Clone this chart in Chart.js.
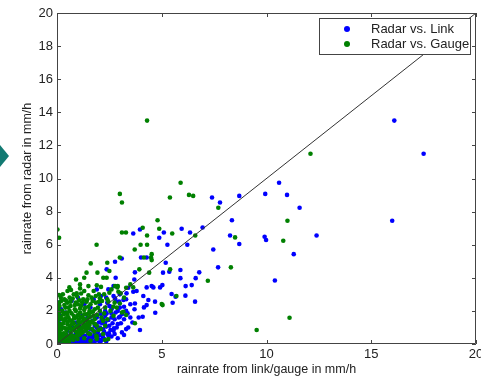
<!DOCTYPE html>
<html>
<head>
<meta charset="utf-8">
<script src="https://cdn.jsdelivr.net/npm/chart.js@4"></script>
<style>
  html, body { margin: 0; padding: 0; background: #fff; overflow: hidden; }
  #wrap { position: relative; width: 481px; height: 380px; }
</style>
</head>
<body>
<div id="wrap"><canvas id="my-chart"></canvas></div>
<script>
'use strict';

// ***** DATA *****
let seriesNames = ['Radar vs. Link', 'Radar vs. Gauge'];
let xTicks = [0, 5, 10, 15, 20];
let yTicks = [0, 2, 4, 6, 8, 10, 12, 14, 16, 18, 20];

// radar vs. link (blue)
let linkX = [
  16.1, 17.5, 16.0, 10.6, 9.94, 10.98, 11.58, 12.39, 11.3, 10.4, 9.91, 9.98,
  8.70, 7.40, 7.78, 8.35, 8.26, 8.70, 7.46, 7.69, 6.95, 5.95, 6.35, 6.22,
  6.79, 6.62, 6.43, 6.14, 6.59, 6.13, 5.89, 5.89, 5.27, 5.10, 4.88, 5.19,
  5.06, 5.36, 5.03, 4.92, 5.47, 5.52, 5.66, 3.96, 3.64, 4.01, 4.28, 3.09,
  2.77, 2.37, 2.80, 3.72, 3.69, 4.28, 4.52, 4.60, 4.12, 4.36, 4.28, 4.15,
  4.69, 4.09, 3.96, 4.68, 3.64, 3.72, 3.32, 3.17,
  3.37, 2.96, 2.77, 2.58, 2.37, 2.13, 1.93, 2.72, 2.48, 2.05, 1.73, 3.20, 3.00,
  0.02, 0.03, 0.05, 0.02, 0.04, 0.02, 0.06, 0.03, 0.05, 0.02, 0.08, 0.10, 0.04, 0.15, 0.12, 0.20,
  0.20, 0.30, 0.40, 0.50, 0.60, 0.70, 0.80, 0.90, 1.00, 1.10, 1.20, 1.30, 1.40, 1.50, 1.60,
  0.35, 0.55, 0.75, 0.95, 1.15, 1.35, 0.45, 0.65,
  1.70, 1.80, 1.90, 2.00, 2.10, 2.20, 2.30, 2.40, 2.50, 2.60, 2.70, 2.80, 2.90, 3.00, 3.10,
  1.60, 1.50, 1.40, 1.30, 1.20, 1.10, 1.00, 1.70, 1.90, 2.10, 2.30, 2.50, 2.20, 2.40, 2.60,
  2.80, 3.20, 3.30, 3.40, 2.00, 1.85, 2.25, 2.60, 2.90, 3.10, 3.50, 3.60, 2.35, 2.45, 2.10,
  1.90, 2.70, 3.00, 1.60, 1.20, 0.90, 0.70, 0.50, 0.80, 1.05, 1.45, 2.05, 2.70, 3.30, 3.70,
  3.90, 3.80, 3.40, 1.30, 1.00, 0.70, 0.40, 1.75,
  0.10, 0.25, 0.35, 0.45, 0.55, 0.65, 0.75, 0.85, 0.95, 1.05, 1.15, 1.25, 1.35, 1.45,
  1.55, 1.65, 1.75, 1.85, 1.95, 2.05, 2.20, 2.35, 0.30, 0.60, 0.90, 1.20, 1.50, 1.80,
  1.60, 1.70, 1.80, 1.95, 2.05, 2.15, 2.25, 2.35, 2.45, 2.55, 2.65, 2.75, 2.85, 2.95,
  3.05, 2.15, 2.45, 2.75, 3.30, 3.50, 2.30, 2.60, 2.90, 3.20,
  0.05, 0.08, 0.12, 0.06, 0.10
];
let linkY = [
  13.5, 11.5, 7.45, 9.74, 9.07, 9.01, 8.23, 6.56, 5.43, 3.84, 6.48, 6.28,
  8.95, 8.85, 8.55, 7.48, 6.56, 6.04, 5.71, 4.63, 7.04, 6.96, 6.74, 6.00,
  4.33, 3.98, 3.56, 3.50, 2.56, 2.92, 4.47, 3.98, 6.00, 6.74, 6.42, 4.91,
  4.31, 4.37, 3.56, 3.42, 3.02, 2.49, 2.86, 6.92, 6.68, 5.23, 5.23, 5.17,
  4.97, 4.51, 4.00, 4.33, 3.90, 3.42, 3.50, 3.42, 2.90, 2.66, 2.35, 2.21,
  1.89, 1.65, 0.85, 2.56, 3.16, 2.45, 3.06, 2.66,
  1.85, 2.56, 2.76, 2.25, 1.85, 1.45, 0.95, 0.95, 0.64, 0.24, 0.44, 0.54, 1.65,
  2.30, 2.00, 1.80, 1.60, 1.40, 1.20, 1.00, 0.80, 0.60, 0.40, 0.30, 0.15, 0.05, 0.50, 1.50, 2.10,
  0.02, 0.05, 0.10, 0.03, 0.12, 0.05, 0.20, 0.08, 0.15, 0.04, 0.25, 0.10, 0.05, 0.30, 0.12,
  0.25, 0.30, 0.35, 0.40, 0.45, 0.50, 0.45, 0.60,
  0.40, 0.70, 1.00, 0.50, 0.20, 0.90, 1.30, 0.60, 1.10, 1.60, 0.80, 1.90, 1.20, 2.20, 0.70,
  0.90, 1.20, 0.80, 1.10, 0.70, 0.90, 0.60, 1.40, 1.60, 1.80, 2.00, 2.30, 1.50, 2.50, 2.10,
  2.60, 1.50, 2.00, 1.00, 1.30, 0.20, 0.30, 0.45, 0.35, 1.80, 2.40, 1.30, 2.80, 3.30, 2.90,
  3.30, 3.50, 3.00, 2.20, 1.70, 1.30, 1.00, 0.80, 0.50, 1.10, 1.60, 2.40, 2.90, 2.70, 2.10,
  1.60, 3.20, 3.40, 2.40, 2.80, 2.60, 1.90, 2.70,
  0.25, 0.15, 0.05, 0.20, 0.10, 0.25, 0.15, 0.30, 0.20, 0.35, 0.20, 0.40, 0.25, 0.15,
  0.45, 0.30, 0.10, 0.50, 0.25, 0.10, 0.40, 0.15, 0.40, 0.45, 0.60, 0.55, 0.65, 0.60,
  0.55, 0.85, 1.10, 0.70, 1.00, 1.25, 0.75, 1.05, 1.45, 0.85, 1.25, 1.50, 1.00, 1.60,
  1.25, 0.55, 0.50, 0.60, 0.90, 1.60, 1.70, 1.85, 2.00, 2.25,
  0.90, 1.30, 1.70, 2.05, 2.50
];

// radar vs. gauge (green)
let gaugeX = [
  4.30, 12.1, 5.90, 3.00, 3.10, 5.39, 6.30, 6.50, 7.70, 11.0, 4.80, 4.09,
  4.88, 5.50, 6.60, 8.50, 10.8, 8.30, 7.20, 9.53, 11.1, 3.10, 3.29, 4.30,
  3.99, 4.30, 3.71, 4.52, 4.49, 4.15, 4.52, 3.93, 4.40, 3.00, 1.89, 0.02,
  0.10, 0.10, 1.61, 1.41, 1.93, 2.40, 2.50, 2.21, 2.37, 1.30, 0.91, 0.59,
  0.67, 1.10, 3.64, 2.77, 2.88, 2.93, 3.04, 5.00, 5.04, 5.70, 3.72, 5.40,
  0.46, 1.41, 0.94, 0.38, 2.05, 2.45, 3.17, 2.69, 1.89, 2.29, 1.50,
  0.02, 0.03, 0.05, 0.02, 0.04, 0.06, 0.03, 0.08, 0.05, 0.10, 0.07, 0.12, 0.04, 0.09, 0.11, 0.14,
  0.20, 0.25, 0.30, 0.35, 0.40, 0.45, 0.50, 0.55, 0.60, 0.65, 0.70, 0.75, 0.80, 0.85, 0.90,
  0.95, 1.00, 1.05, 1.10, 1.15, 1.20, 1.25, 1.30, 1.35, 1.40, 1.45, 1.50, 1.55, 1.60, 1.65,
  1.70, 1.75, 1.80, 1.85, 1.90, 0.30, 0.40, 0.50, 0.60, 0.20, 0.30, 0.15, 0.22,
  0.38, 0.48, 0.58, 0.68, 0.78, 0.88, 0.98, 1.08, 1.18, 1.28, 1.38, 1.48, 1.58, 1.68, 1.78,
  1.88, 1.98, 2.10, 2.20, 2.30, 2.05, 2.15, 2.25, 2.40, 2.50, 2.60, 2.75, 2.90, 2.00, 1.75,
  1.50, 1.25, 1.00, 0.80, 0.50, 0.35, 1.10, 1.50, 1.90, 2.10, 0.70, 0.90, 1.10, 1.30, 0.45,
  0.65, 0.85, 1.05, 0.25, 0.55, 1.60, 1.80, 1.95, 2.30, 2.55, 2.70, 2.85, 3.00, 3.20, 3.30,
  3.50, 2.40, 3.10, 3.30, 2.20, 1.90, 1.60, 1.30, 2.45,
  0.15, 0.25, 0.35, 0.45, 0.55, 0.65, 0.75, 0.85, 0.95, 1.05, 1.15, 1.25, 1.35, 1.45, 1.55,
  0.20, 0.30, 0.40, 0.50, 0.60, 0.70, 0.80, 0.90, 1.00, 1.10, 1.20, 1.30, 1.40, 1.50, 1.60,
  0.25, 0.35, 0.45, 0.55, 0.65, 0.75, 0.85, 0.95, 1.05, 1.15, 1.30, 1.45, 1.70, 1.85, 2.00,
  0.10, 0.18, 0.28, 0.42, 0.62, 0.82, 1.02, 1.22, 1.42, 1.62, 1.72, 1.82, 1.92, 2.12, 2.25,
  0.12, 0.32, 0.52, 0.72, 0.92, 1.12, 1.32, 1.52, 0.18, 0.38
];
let gaugeY = [
  13.5, 11.5, 9.74, 9.07, 8.55, 8.85, 9.01, 8.95, 8.23, 7.45, 7.48, 7.02,
  6.96, 6.68, 6.56, 6.44, 6.24, 4.63, 3.82, 0.85, 1.59, 6.74, 6.74, 6.56,
  6.00, 6.00, 5.71, 5.43, 5.23, 5.23, 5.07, 4.51, 4.31, 5.23, 6.00, 6.92,
  6.42, 2.96, 4.87, 4.31, 4.31, 4.91, 4.41, 4.00, 4.00, 4.00, 3.90, 3.42,
  3.26, 3.36, 3.42, 3.50, 3.42, 3.16, 3.06, 2.41, 2.35, 2.90, 1.25, 4.51,
  1.85, 2.56, 3.06, 2.66, 2.76, 2.56, 1.95, 2.25, 0.44, 0.24, 0.64,
  0.10, 0.30, 0.50, 0.70, 0.90, 1.10, 1.30, 1.50, 1.70, 1.90, 2.10, 2.30, 0.20, 0.60, 1.00, 0.40,
  0.20, 0.60, 1.00, 1.40, 0.40, 0.80, 1.20, 1.60, 2.00, 0.50, 0.90, 1.30, 1.70, 2.10, 2.50,
  0.70, 1.10, 1.50, 1.90, 2.30, 1.00, 1.40, 1.80, 2.20, 2.60, 1.20, 1.60, 2.00, 2.40, 2.80,
  1.30, 1.70, 2.10, 2.50, 1.10, 1.80, 2.20, 2.50, 2.80, 2.60, 0.30, 1.20, 0.90,
  0.10, 0.30, 0.15, 0.35, 0.25, 0.45, 0.30, 0.55, 0.65, 0.75, 0.85, 0.95, 0.60, 0.90, 0.75,
  0.50, 0.85, 0.90, 1.40, 1.10, 2.00, 2.60, 3.00, 2.70, 3.10, 3.30, 2.50, 3.50, 3.00, 3.20,
  2.95, 2.70, 2.40, 3.00, 3.20, 2.70, 3.60, 3.50, 3.55, 3.45, 1.40, 1.60, 1.30, 1.20, 1.90,
  2.30, 1.00, 0.90, 1.50, 0.95, 1.90, 1.50, 2.20, 2.20, 2.00, 1.70, 2.20, 2.45, 2.80, 3.40,
  3.60, 1.50, 1.90, 1.75, 0.60, 0.30, 0.20, 0.35, 0.30,
  0.30, 0.45, 0.20, 0.55, 0.40, 0.70, 0.50, 0.80, 0.55, 0.75, 0.85, 1.05, 0.95, 1.40, 1.15,
  1.05, 1.25, 1.55, 1.75, 1.45, 1.85, 1.25, 2.00, 1.75, 2.15, 2.50, 2.05, 1.80, 2.25, 1.65,
  2.00, 2.35, 2.60, 2.20, 2.55, 2.75, 2.35, 2.90, 2.65, 3.05, 3.20, 2.70, 2.60, 2.90, 2.55,
  2.50, 2.80, 3.00, 0.95, 1.10, 1.55, 1.35, 1.60, 1.10, 1.35, 1.95, 1.20, 1.75, 1.60, 1.85,
  0.75, 0.65, 1.35, 1.20, 1.05, 1.65, 1.50, 1.85, 1.65, 1.85
];

// **** HELPERS ****
function toPoints(xs, ys) {
  let pts = [];
  for (let i = 0; i < xs.length; i++) {
    pts.push({ x: xs[i], y: ys[i] });
  }
  return pts;
}

let fontFamily = '"Liberation Sans", Arial, Helvetica, sans-serif';
let textColor = '#222';
let frameColor = '#444';
let blue = '#0000ff';
let green = '#008000';

// frame, inward ticks, legend box and the slide arrow
let decorPlugin = {
  id: 'decor',
  afterDatasetsDraw(chart) {
    let c = chart.ctx;
    let a = chart.chartArea;
    let xs = chart.scales.x;
    let ys = chart.scales.y;
    c.save();
    c.strokeStyle = frameColor;
    c.lineWidth = 1;
    c.beginPath();
    c.rect(a.left + 0.5, a.top + 0.5, a.right - a.left - 1, a.bottom - a.top - 1);
    c.stroke();
    c.beginPath();
    xTicks.forEach(function (v) {
      let px = Math.round(xs.getPixelForValue(v)) + 0.5;
      c.moveTo(px, a.bottom); c.lineTo(px, a.bottom - 4);
      c.moveTo(px, a.top); c.lineTo(px, a.top + 4);
    });
    yTicks.forEach(function (v) {
      let py = Math.round(ys.getPixelForValue(v)) + 0.5;
      c.moveTo(a.left, py); c.lineTo(a.left + 4, py);
      c.moveTo(a.right, py); c.lineTo(a.right - 4, py);
    });
    c.stroke();

    // legend
    let lx = 319, ly = 18, lw = 151, lh = 36;
    c.fillStyle = '#fff';
    c.fillRect(lx, ly, lw, lh);
    c.strokeRect(lx + 0.5, ly + 0.5, lw, lh);
    let colors = [blue, green];
    c.font = '13px ' + fontFamily;
    c.textBaseline = 'middle';
    c.textAlign = 'left';
    seriesNames.forEach(function (name, i) {
      let cy = ly + 11 + i * 15;
      c.fillStyle = colors[i];
      c.beginPath();
      c.arc(347, cy, 3, 0, Math.PI * 2);
      c.fill();
      c.fillStyle = textColor;
      c.fillText(name, 371, cy);
    });

    // teal arrow from the slide
    c.fillStyle = '#127a72';
    c.beginPath();
    c.moveTo(0, 145); c.lineTo(9, 156); c.lineTo(0, 167);
    c.closePath();
    c.fill();
    c.restore();
  }
};

// **** CHART ****
let ctx = document.getElementById('my-chart');

let chartObj = {
  type: 'scatter',
  data: {
    datasets: [
      {
        type: 'line',
        label: 'diagonal',
        data: [{ x: 0, y: 0 }, { x: 20, y: 20 }],
        borderColor: '#333',
        borderWidth: 1,
        pointRadius: 0,
        fill: false,
        order: 0
      },
      {
        label: seriesNames[1],
        data: toPoints(gaugeX, gaugeY),
        backgroundColor: green,
        borderWidth: 0,
        pointRadius: 2.3,
        order: 1
      },
      {
        label: seriesNames[0],
        data: toPoints(linkX, linkY),
        backgroundColor: blue,
        borderWidth: 0,
        pointRadius: 2.3,
        order: 2
      }
    ]
  },
  options: {
    responsive: true,
    maintainAspectRatio: false,
    animation: false,
    layout: { padding: { top: 13, right: 5, bottom: 0, left: 0 } },
    plugins: {
      legend: { display: false },
      tooltip: { enabled: false }
    },
    scales: {
      x: {
        type: 'linear',
        min: 0,
        max: 20,
        afterBuildTicks(scale) { scale.ticks = xTicks.map(function (v) { return { value: v }; }); },
        afterFit(scale) { scale.height = 36; scale.paddingLeft = 0; scale.paddingRight = 0; },
        grid: { display: false, drawTicks: false },
        border: { display: false },
        ticks: { padding: 3, color: textColor, font: { family: fontFamily, size: 13 }, maxRotation: 0 },
        title: {
          display: true,
          text: 'rainrate from link/gauge in mm/h',
          color: textColor,
          font: { family: fontFamily, size: 12.5 },
          padding: { top: 0, bottom: 3 }
        }
      },
      y: {
        type: 'linear',
        min: 0,
        max: 20,
        afterBuildTicks(scale) { scale.ticks = yTicks.map(function (v) { return { value: v }; }); },
        afterFit(scale) { scale.width = 57; scale.paddingTop = 0; scale.paddingBottom = 0; },
        grid: { display: false, drawTicks: false },
        border: { display: false },
        ticks: { padding: 4, color: textColor, font: { family: fontFamily, size: 13 } },
        title: {
          display: true,
          text: 'rainrate from radar in mm/h',
          color: textColor,
          font: { family: fontFamily, size: 12.5 },
          padding: { top: 20, bottom: 0 }
        }
      }
    }
  },
  plugins: [decorPlugin]
};

new Chart(ctx, chartObj);
</script>
</body>
</html>
